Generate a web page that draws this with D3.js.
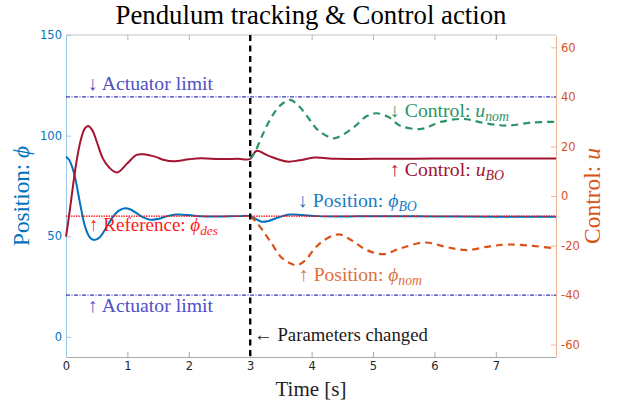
<!DOCTYPE html>
<html>
<head>
<meta charset="utf-8">
<script src="https://cdn.jsdelivr.net/npm/d3@7"></script>
</head>
<body style="margin:0;background:#fff">
<svg width="618" height="402"></svg>
<script>
// position phi_BO (left axis)
const tPhiBO = [0, 0.05, 0.1, 0.15, 0.2, 0.25, 0.3, 0.35, 0.4, 0.47, 0.55, 0.65, 0.75, 0.85, 0.96, 1.05, 1.15, 1.25, 1.37, 1.5, 1.65, 1.8, 2.0, 2.2, 2.5, 2.8, 3.0, 3.1, 3.19, 3.3, 3.45, 3.65, 3.85, 4.1, 4.5, 5.0, 6.0, 7.0, 7.98]
const phiBO = [89.5, 88, 84.5, 79, 71, 63, 56, 51.5, 49, 48.2, 49.5, 54, 59, 62.5, 63.9, 63.3, 61.5, 59.5, 58.2, 58.6, 60, 60.8, 60.5, 59.9, 59.8, 60, 60, 58.5, 57.2, 57.6, 59.3, 60.8, 60.5, 60, 59.8, 60, 59.8, 59.7, 59.7]

// control u_BO (right axis)
const tUBO = [0, 0.05, 0.1, 0.15, 0.2, 0.25, 0.3, 0.36, 0.43, 0.5, 0.6, 0.7, 0.83, 1.0, 1.15, 1.29, 1.45, 1.6, 1.75, 2.0, 2.2, 2.5, 2.8, 3.0, 3.1, 3.3, 3.6, 3.8, 4.05, 4.4, 5.0, 6.0, 7.0, 7.98]
const uBO = [-16.4, -8, 1.5, 10.5, 18, 23.5, 27, 28.3, 26.5, 22, 15.2, 11.6, 9.5, 13.2, 16.6, 16.8, 15.9, 14.5, 14.0, 14.8, 15.2, 14.9, 15, 15, 18.2, 16.2, 13.9, 14.4, 15.5, 15, 15, 15.1, 15.1, 15.1]

// control u_nom (right axis)
const tUNom = [3.0, 3.08, 3.2, 3.35, 3.5, 3.65, 3.8, 3.95, 4.1, 4.35, 4.5, 4.7, 4.9, 5.06, 5.25, 5.45, 5.79, 6.1, 6.47, 6.8, 7.18, 7.6, 7.98]
const uNom = [15, 17.9, 24.6, 32, 36.8, 38.8, 36.1, 31.4, 26.7, 23.3, 24.6, 28, 32.3, 33.4, 31.9, 28.3, 27.1, 29.9, 31.1, 29.5, 28.4, 29.7, 29.9]

// position phi_nom (left axis)
const tPhiNom = [3.0, 3.1, 3.2, 3.35, 3.5, 3.65, 3.76, 3.9, 4.05, 4.2, 4.44, 4.65, 4.9, 5.17, 5.45, 5.85, 6.2, 6.53, 6.9, 7.2, 7.6, 7.98]
const phiNom = [60, 57, 53, 46.4, 39.7, 36.6, 35.6, 38.1, 43.9, 48, 50.9, 48, 43.1, 41.1, 44, 46.9, 44.6, 43.1, 45, 45.9, 45.2, 43.9]

const phiRef = 60
const actuatorLimits = [40, -40]
const changeTime = 3

const xTicks = [0, 1, 2, 3, 4, 5, 6, 7]
const leftTicks = [0, 50, 100, 150]
const rightTicks = [-60, -40, -20, 0, 20, 40, 60]

const blue = '#0072BD', orange = '#D95319', darkRed = '#A2142F',
  green = '#2b9466', limitColor = '#3b3bb3'
const serif = 'Liberation Serif'

var margin = { top: 35, right: 62, bottom: 45, left: 66 },
  width = 618 - margin.left - margin.right,
  height = 402 - margin.top - margin.bottom

const svg = d3.select('svg')
const g = svg.append('g')
  .attr('transform', 'translate(' + margin.left + ',' + margin.top + ')')

const x = d3.scaleLinear().domain([0, 7.98]).range([0, width])
const yL = d3.scaleLinear().domain([-10, 150]).range([height, 0])
const yR = d3.scaleLinear().domain([-65, 65]).range([height, 0])

// box top
g.append('line').attr('x1', 0).attr('x2', width).attr('y1', 0).attr('y2', 0)
  .attr('stroke', '#c4c4c4')

const xAxis = g.append('g').attr('transform', `translate(0,${height})`)
  .call(d3.axisBottom(x).tickValues(xTicks).tickSize(-5).tickSizeOuter(0).tickPadding(5))
xAxis.select('.domain').attr('stroke', '#a8a8a8')
xAxis.selectAll('.tick line').attr('stroke', '#a8a8a8')
xAxis.selectAll('.tick text').attr('fill', '#262626')

const xTop = g.append('g')
  .call(d3.axisTop(x).tickValues(xTicks).tickSize(-5).tickSizeOuter(0).tickFormat(''))
xTop.select('.domain').remove()
xTop.selectAll('.tick line').attr('stroke', '#b4b4b4')

const leftAxis = g.append('g')
  .call(d3.axisLeft(yL).tickValues(leftTicks).tickSize(-5).tickSizeOuter(0).tickPadding(4))
leftAxis.select('.domain').attr('stroke', '#9cc8e8')
leftAxis.selectAll('.tick line').attr('stroke', '#9cc8e8')
leftAxis.selectAll('.tick text').attr('fill', blue)

const rightAxis = g.append('g').attr('transform', `translate(${width},0)`)
  .call(d3.axisRight(yR).tickValues(rightTicks).tickSize(-5).tickSizeOuter(0).tickPadding(5)
    .tickFormat((d) => String(d)))
rightAxis.select('.domain').attr('stroke', '#f2b396')
rightAxis.selectAll('.tick line').attr('stroke', '#f2b396')
rightAxis.selectAll('.tick text').attr('fill', orange)

;[xAxis, leftAxis, rightAxis].forEach((a) =>
  a.attr('font-family', 'DejaVu Sans').attr('font-size', 11.5))

// actuator limits
g.selectAll('.limit')
  .data(actuatorLimits)
  .enter()
  .append('line')
  .attr('class', 'limit')
  .attr('x1', 0).attr('x2', width)
  .attr('y1', (d) => yR(d)).attr('y2', (d) => yR(d))
  .attr('stroke', limitColor)
  .attr('stroke-width', 1.1)
  .attr('stroke-dasharray', '4,1.5,1,1.5')

const line = (tArr, yScale) => d3.line()
  .x((d, i) => x(tArr[i]))
  .y((d) => yScale(d))
  .curve(d3.curveCatmullRom.alpha(0.5))

g.append('path').datum(phiBO)
  .attr('d', line(tPhiBO, yL))
  .attr('fill', 'none').attr('stroke', blue).attr('stroke-width', 2)

// reference
g.append('line')
  .attr('x1', 0).attr('x2', width)
  .attr('y1', yL(phiRef)).attr('y2', yL(phiRef))
  .attr('stroke', '#ff0000').attr('stroke-width', 1.3)
  .attr('stroke-dasharray', '1.5,1')

g.append('path').datum(uBO)
  .attr('d', line(tUBO, yR))
  .attr('fill', 'none').attr('stroke', darkRed).attr('stroke-width', 2)

g.append('path').datum(uNom)
  .attr('d', line(tUNom, yR))
  .attr('fill', 'none').attr('stroke', green).attr('stroke-width', 2.2)
  .attr('stroke-dasharray', '7,5')

g.append('path').datum(phiNom)
  .attr('d', line(tPhiNom, yL))
  .attr('fill', 'none').attr('stroke', orange).attr('stroke-width', 2.2)
  .attr('stroke-dasharray', '7,5')

// parameter change
g.append('line')
  .attr('x1', x(changeTime)).attr('x2', x(changeTime))
  .attr('y1', 0).attr('y2', height)
  .attr('stroke', '#000').attr('stroke-width', 2.4)
  .attr('stroke-dasharray', '6,4.5')

// scale a text's font size so it spans the wanted width
function fit(t, size, w) {
  t.attr('font-family', serif).attr('font-size', size)
  const len = t.node().getComputedTextLength()
  if (len > 0) t.attr('font-size', (size * w / len).toFixed(2))
  return t
}

// annotations
function note(xp, yp, w, color, main, sym, sub) {
  const t = svg.append('text')
    .attr('x', xp).attr('y', yp)
    .attr('fill', color)
  t.append('tspan').text(main)
  if (sym) {
    t.append('tspan').text(sym).attr('font-style', 'italic')
    t.append('tspan').text(sub).attr('dy', 4).attr('font-style', 'italic').attr('font-size', '0.7em')
  }
  fit(t, 18, w)
}
note(88, 90, 125, '#5050c4', '↓ Actuator limit')
note(88, 312, 125, '#5050c4', '↑ Actuator limit')
note(89, 231, 129, '#ff1a1a', '↑ Reference: ', 'ϕ', 'des')
note(298, 207, 119, '#1a7cc6', '↓ Position: ', 'ϕ', 'BO')
note(299, 281, 123, '#e0703c', '↑ Position: ', 'ϕ', 'nom')
note(390, 117, 119, green, '↓ Control: ', 'u', 'nom')
note(390, 176, 114, darkRed, '↑ Control: ', 'u', 'BO')
note(254, 341, 174, '#1a1a1a', '← Parameters changed')

// titles
fit(svg.append('text')
  .attr('x', 311).attr('y', 24)
  .attr('text-anchor', 'middle')
  .attr('fill', '#000')
  .text('Pendulum tracking & Control action'), 25, 391)

fit(svg.append('text')
  .attr('x', 311).attr('y', 396)
  .attr('text-anchor', 'middle')
  .attr('fill', '#222')
  .text('Time [s]'), 21, 71)

const yLabel = svg.append('text')
  .attr('transform', 'translate(29,196) rotate(-90)')
  .attr('text-anchor', 'middle')
  .attr('fill', blue)
yLabel.append('tspan').text('Position: ')
yLabel.append('tspan').text('ϕ').attr('font-style', 'italic')
fit(yLabel, 22, 100)

const y2Label = svg.append('text')
  .attr('transform', 'translate(600,196) rotate(-90)')
  .attr('text-anchor', 'middle')
  .attr('fill', orange)
y2Label.append('tspan').text('Control: ')
y2Label.append('tspan').text('u').attr('font-style', 'italic')
fit(y2Label, 22, 96)
</script>
</body>
</html>
